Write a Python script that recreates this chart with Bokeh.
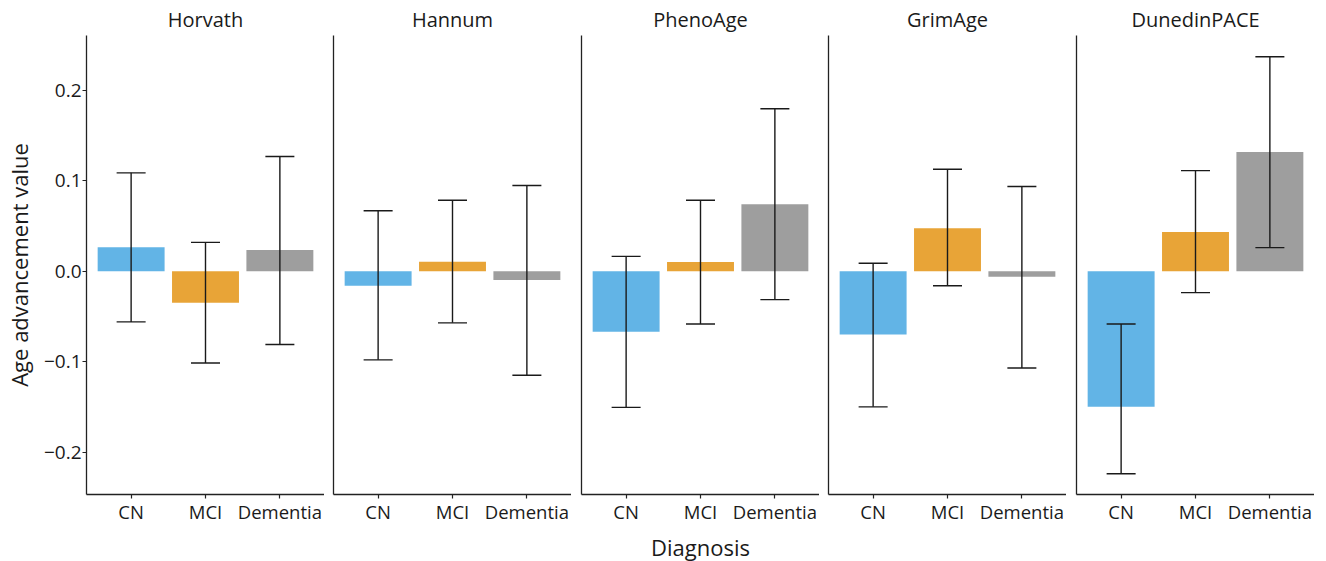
from bokeh.plotting import figure
from bokeh.layouts import row
from bokeh.models import (ColumnDataSource, FactorRange, Range1d, FixedTicker,
                          Whisker, TeeHead)
from bokeh.embed import file_html
from bokeh.resources import INLINE

# ---------------- data ----------------
clocks = ["Horvath", "Hannum", "PhenoAge", "GrimAge", "DunedinPACE"]
diagnoses = ["CN", "MCI", "Dementia"]
bar_colors = ["#62B4E6", "#E8A437", "#9E9E9E"]

horvath_mean = [0.0266, -0.0347, 0.0237]
horvath_low = [-0.0560, -0.1015, -0.0810]
horvath_high = [0.1090, 0.0320, 0.1270]

hannum_mean = [-0.0160, 0.0107, -0.0095]
hannum_low = [-0.0980, -0.0570, -0.1150]
hannum_high = [0.0670, 0.0786, 0.0950]

phenoage_mean = [-0.0668, 0.0104, 0.0742]
phenoage_low = [-0.1506, -0.0583, -0.0313]
phenoage_high = [0.0166, 0.0786, 0.1800]

grimage_mean = [-0.0700, 0.0477, -0.0059]
grimage_low = [-0.1500, -0.0160, -0.1070]
grimage_high = [0.0089, 0.1130, 0.0938]

dunedin_mean = [-0.1500, 0.0436, 0.1320]
dunedin_low = [-0.2240, -0.0236, 0.0262]
dunedin_high = [-0.0583, 0.1115, 0.2374]

means = [horvath_mean, hannum_mean, phenoage_mean, grimage_mean, dunedin_mean]
lows = [horvath_low, hannum_low, phenoage_low, grimage_low, dunedin_low]
highs = [horvath_high, hannum_high, phenoage_high, grimage_high, dunedin_high]

y_ticks = [-0.2, -0.1, 0.0, 0.1, 0.2]
y_tick_labels = ["\u22120.2", "\u22120.1", "0.0", "0.1", "0.2"]

FONT = "Open Sans"
TXT = "#1a1a1a"
AX = "#222222"

FRAME_W = 238
FRAME_H = 459
TOP = 27
BOTTOM = 54
left_borders = [79, 9, 10, 9, 10]

figs = []
for i, clock in enumerate(clocks):
    lb = left_borders[i]
    p = figure(
        x_range=FactorRange(factors=diagnoses, range_padding=1 / 15),
        y_range=Range1d(-0.247, 0.261),
        frame_width=FRAME_W, frame_height=FRAME_H,
        min_border_left=lb, min_border_right=0,
        min_border_top=TOP, min_border_bottom=BOTTOM,
        output_backend="svg", toolbar_location=None, title=clock,
    )
    p.outline_line_color = None
    p.grid.visible = False
    p.background_fill_color = "white"
    p.border_fill_color = "white"

    p.title.align = "center"
    p.title.text_font = FONT
    p.title.text_font_size = "20px"
    p.title.text_font_style = "normal"
    p.title.text_color = TXT
    p.title.standoff = 6

    src = ColumnDataSource(dict(
        diag=diagnoses, mean=means[i], low=lows[i], high=highs[i],
        color=bar_colors,
    ))
    p.vbar(x="diag", top="mean", bottom=0, width=0.9, fill_color="color",
           line_color=None, source=src)
    w = Whisker(base="diag", upper="high", lower="low", source=src,
                level="annotation",
                line_color="#1a1a1a", line_width=1.4,
                upper_head=TeeHead(size=29, line_color="#1a1a1a", line_width=1.4),
                lower_head=TeeHead(size=29, line_color="#1a1a1a", line_width=1.4))
    p.add_layout(w)

    # x axis
    xa = p.xaxis[0]
    xa.axis_line_color = AX
    xa.axis_line_width = 1.3
    xa.major_tick_line_color = AX
    xa.major_tick_line_width = 1.2
    xa.major_tick_out = 4
    xa.major_tick_in = 0
    xa.minor_tick_line_color = None
    xa.major_label_text_font = FONT
    xa.major_label_text_font_size = "18.5px"
    xa.major_label_text_color = TXT
    xa.major_label_standoff = 0
    if i == 2:
        xa.axis_label = "Diagnosis"
        xa.axis_label_text_font = FONT
        xa.axis_label_text_font_size = "22px"
        xa.axis_label_text_font_style = "normal"
        xa.axis_label_text_color = TXT
        xa.axis_label_standoff = 5

    # y axis
    ya = p.yaxis[0]
    ya.axis_line_color = AX
    ya.axis_line_width = 1.3
    ya.minor_tick_line_color = None
    if i == 0:
        ya.ticker = FixedTicker(ticks=y_ticks)
        ya.major_label_overrides = {t: lab for t, lab in zip(y_ticks, y_tick_labels)}
        ya.major_tick_line_color = AX
        ya.major_tick_line_width = 1.2
        ya.major_tick_out = 4
        ya.major_tick_in = 0
        ya.major_label_text_font = FONT
        ya.major_label_text_font_size = "19px"
        ya.major_label_text_color = TXT
        ya.major_label_standoff = 1
        ya.axis_label = "Age advancement value"
        ya.axis_label_text_font = FONT
        ya.axis_label_text_font_size = "22px"
        ya.axis_label_text_font_style = "normal"
        ya.axis_label_text_color = TXT
        ya.axis_label_standoff = 7
    else:
        ya.ticker = FixedTicker(ticks=[])
        ya.major_tick_out = 0
        ya.major_tick_in = 0
        ya.major_label_standoff = 0
    figs.append(p)

layout = row(*figs, spacing=0)
open("out.html", "w").write(file_html(layout, INLINE))
